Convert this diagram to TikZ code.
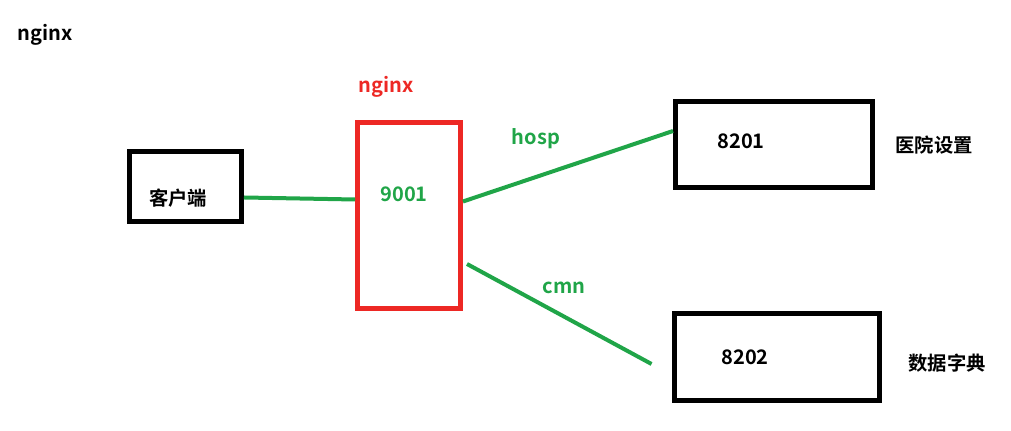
\documentclass[tikz,border=0pt]{standalone}
\usepackage{fontspec}
\setmainfont{Noto Sans CJK SC}[BoldFont={Noto Sans CJK SC Bold}]
\definecolor{paintgreen}{RGB}{32,165,72}
\definecolor{paintred}{RGB}{237,40,36}
\tikzset{
  box/.style={draw, line width=0.1cm, rectangle, inner sep=0pt},
  lbl/.style={font=\fontsize{11.4}{14}\selectfont\bfseries, inner sep=0pt},
  cn/.style={font=\fontsize{11}{14}\selectfont\bfseries, inner sep=0pt},
  link/.style={paintgreen, line width=0.08cm}
}

\begin{document}
\begin{tikzpicture}[x=0.02cm, y=-0.02cm]
\useasboundingbox (0,0) rectangle (1011,431);
% boxes
\node[box, minimum width=2.24cm, minimum height=1.4cm] (client) at (185.5,186.5) {};
\node[box, paintred, minimum width=2.06cm, minimum height=3.72cm] (nginx) at (409,215.5) {};
\node[box, minimum width=3.94cm, minimum height=1.72cm] (hosp) at (774,144.5) {};
\node[box, minimum width=4.12cm, minimum height=1.74cm] (cmn) at (777,357) {};
% texts
\node[lbl] (title) at (45,35) {nginx};
\node[lbl, paintred] (nginxname) at (386,87) {nginx};
\node[cn] (clienttext) at (178,198) {客户端};
\node[lbl, paintgreen] (port) at (404,194.5) {9001};
\node[lbl] (hospport) at (741,141.5) {8201};
\node[lbl] (cmnport) at (745,357.5) {8202};
\node[cn] (hospname) at (934,145) {医院设置};
\node[cn] (cmnname) at (947,363) {数据字典};
\node[lbl, paintgreen] (hosplbl) at (536,139) {hosp};
\node[lbl, paintgreen] (cmnlbl) at (564,288) {cmn};
% links
\draw[link] ([yshift=-0.22cm]client.east) -- ([yshift=0.32cm]nginx.west);
\draw[link] ([yshift=0.28cm]nginx.east) -- ([yshift=0.27cm]hosp.west);
\coordinate (cmnend) at ([xshift=-0.4cm, yshift=-0.14cm]cmn.west);
\draw[link] ([xshift=0.08cm, yshift=-0.97cm]nginx.east) -- (cmnend);
\end{tikzpicture}
\end{document}
